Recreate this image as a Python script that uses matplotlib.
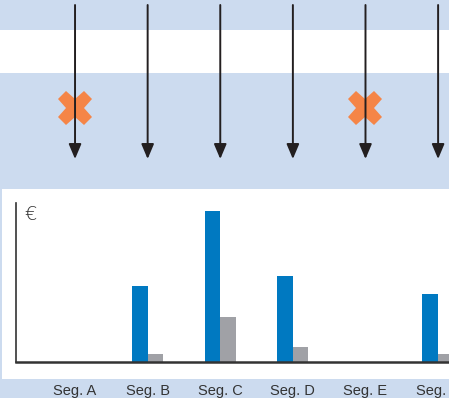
import matplotlib
matplotlib.use("Agg")
import matplotlib.pyplot as plt
from matplotlib.patches import Rectangle

# Data
segments = ["Seg. A", "Seg. B", "Seg. C", "Seg. D", "Seg. E", "Seg. F"]
revenue = [0, 50, 100, 57, 0, 45]
cost = [0, 5, 30, 10, 0, 5]
excluded = ["Seg. A", "Seg. E"]

BLUE = "#0079C1"
GREY = "#A0A1A6"
PALE = "#CCDBEF"
ORANGE = "#F58547"
INK = "#231F20"

W, H = 449, 398
fig = plt.figure(figsize=(W / 100, H / 100), dpi=100)
fig.patch.set_facecolor("white")

# Background bands in pixel coordinates
bg = fig.add_axes([0, 0, 1, 1])
bg.set_xlim(0, W)
bg.set_ylim(H, 0)
bg.axis("off")
for (x0, y0, w, h) in [(0, 0, W, 30), (0, 73, W, 116), (0, 379, W, 19), (0, 189, 2, 190)]:
    bg.add_patch(Rectangle((x0, y0), w, h, facecolor=PALE, edgecolor="none"))

# Shared horizontal scale for categories
xpos = list(range(len(segments)))
xlim = (-0.813, 5.15)

# Bar chart
ax = fig.add_axes([16 / W, (H - 362) / H, (W - 16) / W, 159 / H])
ax.set_facecolor("none")
bw = 0.215
ax.bar([x - bw / 2 for x in xpos], revenue, width=bw, color=BLUE, zorder=2)
ax.bar([x + bw / 2 for x in xpos], cost, width=bw, color=GREY, zorder=2)
ax.set_xlim(*xlim)
ax.set_ylim(0, 105)
for s in ["top", "right"]:
    ax.spines[s].set_visible(False)
ax.spines["left"].set_color("#333333")
ax.spines["left"].set_linewidth(1.2)
ax.spines["bottom"].set_color("#333333")
ax.spines["bottom"].set_linewidth(1.8)
ax.set_yticks([])
ax.set_xticks(xpos)
ax.set_xticklabels(segments, fontsize=10.5, family="Liberation Sans", color="#333333")
ax.tick_params(axis="x", length=0, pad=16)
ax.text(0.02, 0.985, "€", transform=ax.transAxes, ha="left", va="top",
        fontsize=14, family="DejaVu Sans", fontweight="light", color="#333333")

# Arrows flowing into each segment
top = fig.add_axes([16 / W, (H - 189) / H, (W - 16) / W, 189 / H])
top.set_xlim(*xlim)
top.set_ylim(189, 0)
top.axis("off")
for x, name in zip(xpos, segments):
    top.annotate("", xy=(x, 159), xytext=(x, 5),
                 arrowprops=dict(arrowstyle="-|>,head_length=0.9,head_width=0.38",
                                 color=INK, lw=1.4, shrinkA=0, shrinkB=0),
                 zorder=3)
    if name in excluded:
        top.plot([x], [108], marker="X", markersize=25, color=ORANGE,
                 markeredgewidth=0, zorder=2)

fig.savefig("out.png", dpi=100)
